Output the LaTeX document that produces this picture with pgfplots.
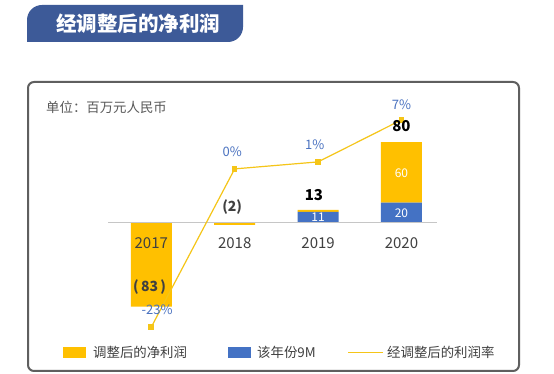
\documentclass[border=0pt]{standalone}
\usepackage{fontspec}
\setmainfont{Noto Sans CJK SC}
\usepackage{pgfplots}
\pgfplotsset{compat=1.18}
\definecolor{cyellow}{HTML}{FFC000}
\definecolor{cblue}{HTML}{4472C4}
\definecolor{lyellow}{HTML}{F5C518}
\definecolor{banner}{HTML}{3D5A98}
\definecolor{boxgray}{HTML}{5F5F5F}
\definecolor{txtgray}{HTML}{404040}
\definecolor{unitgray}{HTML}{595959}
\definecolor{ratec}{HTML}{4A72C0}
\begin{document}
\begin{tikzpicture}[x=1pt,y=1pt]
\path[fill=white] (0,0) rectangle (554,374);
% title banner
\fill[banner] (27,332) -- (27,354) arc[start angle=180,end angle=90,radius=15] -- (243,369) -- (243,347) arc[start angle=0,end angle=-90,radius=15] -- cycle;
\node[text=white,font=\fontsize{20.5}{24}\selectfont\bfseries] at (138,350.5) {经调整后的净利润};
% frame
\draw[boxgray,line width=2pt,rounded corners=6pt] (28,3) rectangle (519,292);
\node[anchor=west,inner sep=0pt,text=unitgray,font=\fontsize{13.4}{15}\selectfont] at (46,267) {单位：百万元人民币};
% bars
\begin{axis}[at={(108pt,40pt)},anchor=south west,scale only axis,
  width=329pt,height=222.2pt,xmin=-0.519,xmax=3.426,ymin=-110,ymax=110,
  hide axis,clip=false,ybar stacked,bar width=41pt]
\draw[gray!45,line width=0.8pt] (axis cs:-0.519,0) -- (axis cs:3.426,0);
\addplot[fill=cblue,draw=none] coordinates {(0,0) (1,0) (2,11) (3,20)};
\addplot[fill=cyellow,draw=none] coordinates {(0,-83) (1,-2) (2,2) (3,60)};
\coordinate (y0) at (axis cs:0,-19.8);
\coordinate (y1) at (axis cs:1,-19.8);
\coordinate (y2) at (axis cs:2,-19.8);
\coordinate (y3) at (axis cs:3,-19.8);
\coordinate (v80) at (axis cs:3,96);
\coordinate (v13) at (axis cs:1.95,27.7);
\coordinate (v2) at (axis cs:0.97,15.8);
\coordinate (v83) at (axis cs:-0.02,-63.4);
\coordinate (v60) at (axis cs:3,49.5);
\coordinate (v20) at (axis cs:3,9.9);
\coordinate (v11) at (axis cs:2,5.4);
\coordinate (r7) at (axis cs:3,116.8);
\coordinate (r1) at (axis cs:1.96,77.2);
\coordinate (r0) at (axis cs:0.97,70.3);
\coordinate (rm) at (axis cs:0.07,-86.1);
\end{axis}
% rate line
\begin{axis}[at={(108pt,40pt)},anchor=south west,scale only axis,
  width=329pt,height=222.2pt,xmin=-0.519,xmax=3.426,ymin=-23.586,ymax=8.157,
  hide axis,clip=false]
\addplot[color=lyellow,line width=1.2pt,mark=square*,mark size=2.2pt,mark options={solid,fill=lyellow}]
  coordinates {(0,-22.6) (1,0) (2,1) (3,7)};
\end{axis}
% year labels
\node[text=txtgray,font=\fontsize{15}{17}\selectfont] at (y0) {2017};
\node[text=txtgray,font=\fontsize{15}{17}\selectfont] at (y1) {2018};
\node[text=txtgray,font=\fontsize{15}{17}\selectfont] at (y2) {2019};
\node[text=txtgray,font=\fontsize{15}{17}\selectfont] at (y3) {2020};
% value labels
\node[font=\fontsize{15}{17}\selectfont\bfseries] at (v80) {80};
\node[font=\fontsize{15}{17}\selectfont\bfseries] at (v13) {13};
\node[font=\fontsize{14}{16}\selectfont\bfseries,text=txtgray] at (v2) {(2)};
\node[font=\fontsize{14}{16}\selectfont\bfseries,text=txtgray] at (v83) {(\,83\,)};
\node[font=\fontsize{12}{14}\selectfont,text=white] at (v60) {60};
\node[font=\fontsize{12}{14}\selectfont,text=white] at (v20) {20};
\node[font=\fontsize{12}{14}\selectfont,text=white] at (v11) {11};
% rate labels
\node[font=\fontsize{13}{15}\selectfont,text=ratec] at (r7) {7\%};
\node[font=\fontsize{13}{15}\selectfont,text=ratec] at (r1) {1\%};
\node[font=\fontsize{13}{15}\selectfont,text=ratec] at (r0) {0\%};
\node[font=\fontsize{13}{15}\selectfont,text=ratec] at (rm) {-23\%};
% legend
\fill[cyellow] (63,16) rectangle (86,27);
\node[anchor=west,inner sep=0pt,text=txtgray,font=\fontsize{13.4}{15}\selectfont] at (93,21.5) {调整后的净利润};
\fill[cblue] (228,16) rectangle (251,27);
\node[anchor=west,inner sep=0pt,text=txtgray,font=\fontsize{13.4}{15}\selectfont] at (257,21.5) {该年份9M};
\draw[lyellow,line width=1.2pt] (348,21.5) -- (383,21.5);
\node[anchor=west,inner sep=0pt,text=txtgray,font=\fontsize{13.4}{15}\selectfont] at (387,21.5) {经调整后的利润率};
\end{tikzpicture}
\end{document}
